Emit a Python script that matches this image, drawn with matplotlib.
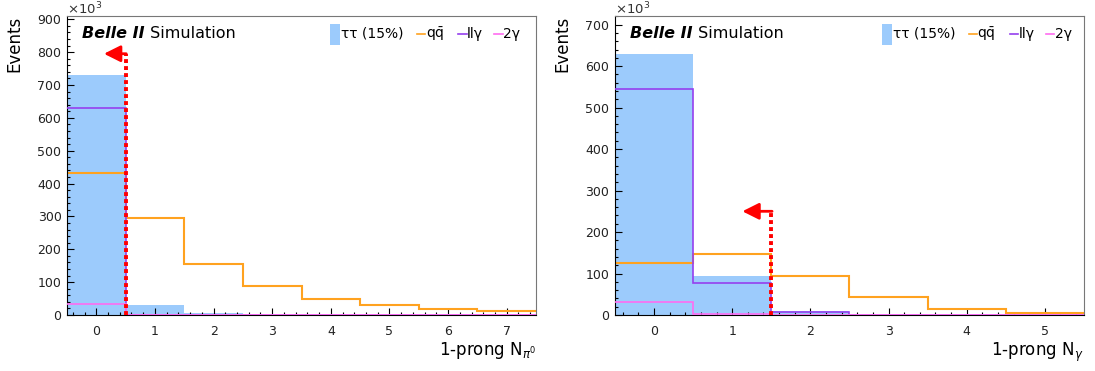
import numpy as np
import matplotlib.pyplot as plt
from matplotlib.ticker import MultipleLocator

# values in units of 10^3 events, one entry per bin
npi0_bins = [0, 1, 2, 3, 4, 5, 6, 7]
npi0_tautau = [730, 31, 6, 2, 0.5, 0.2, 0.1, 0.0]
npi0_qq = [431, 296, 155, 87, 50, 29, 17.5, 11]
npi0_llg = [629, 1, 0.2, 0, 0, 0, 0, 0]
npi0_2g = [34, 0.3, 0, 0, 0, 0, 0, 0]
npi0_cut = 0.5
npi0_arrow = (0.13, 795)

ngam_bins = [0, 1, 2, 3, 4, 5]
ngam_tautau = [630, 93, 9, 1.5, 0.2, 0.0]
ngam_qq = [126, 148, 95, 43, 15, 5]
ngam_llg = [546, 78, 7, 1, 0, 0]
ngam_2g = [32, 3, 0.3, 0, 0, 0]
ngam_cut = 1.5
ngam_arrow = (1.13, 250)

xlabels = [r'1-prong N$_{\pi^0}$', r'1-prong N$_{\gamma}$']
legend_names = ['\u03c4\u03c4 (15%)', r'$\mathrm{q\bar{q}}$', 'll\u03b3', '2\u03b3']

c_tau = '#9ccbfc'
c_qq = '#ffa21f'
c_llg = '#9540ee'
c_2g = '#ff6cf0'
c_cut = '#ff0000'

fig = plt.figure(figsize=(10.95, 3.71), dpi=100)
ax1 = fig.add_axes([0.0612, 0.151, 0.4283, 0.806])
ax2 = fig.add_axes([0.5616, 0.151, 0.4283, 0.806])


def draw_panel(ax, bins, tau, qq, llg, g2, cut, arrow, ymax, xlab, legdx):
    edges = np.append(np.array(bins) - 0.5, bins[-1] + 0.5)
    ax.stairs(tau, edges, fill=True, color=c_tau, zorder=1)
    ax.stairs(qq, edges, baseline=None, color=c_qq, lw=1.5, zorder=2)
    ax.stairs(llg, edges, baseline=None, color=c_llg, lw=1.2, zorder=3)
    ax.stairs(g2, edges, baseline=None, color=c_2g, lw=1.2, zorder=4)

    # selection cut
    ax.plot([cut, cut], [0, arrow[1]], color=c_cut, lw=2.8,
            ls=(0, (1, 0.8)), zorder=6, solid_capstyle='butt')
    ax.annotate('', xy=(arrow[0], arrow[1]), xytext=(cut + 0.01, arrow[1]),
                arrowprops=dict(arrowstyle='-|>,head_length=1.0,head_width=0.5',
                                color=c_cut, lw=2, shrinkA=0, shrinkB=0),
                zorder=7)

    ax.set_xlim(edges[0], edges[-1])
    ax.set_ylim(0, ymax)
    ax.xaxis.set_major_locator(MultipleLocator(1))
    ax.xaxis.set_minor_locator(MultipleLocator(0.2))
    ax.yaxis.set_major_locator(MultipleLocator(100))
    ax.yaxis.set_minor_locator(MultipleLocator(20))
    ax.tick_params(which='both', direction='in', top=False, right=False,
                   labelsize=9, labelcolor='#222222')
    ax.tick_params(which='major', length=4.8, width=0.8)
    ax.tick_params(which='minor', length=2.4, width=0.8)
    ax.tick_params(axis='x', pad=7)
    ax.tick_params(axis='y', pad=4)
    for s in ['top', 'right']:
        ax.spines[s].set_color('#777777')
        ax.spines[s].set_linewidth(0.8)

    ax.set_ylabel('Events', fontsize=12, loc='top')
    ax.yaxis.set_label_coords(-0.092, 1.0)
    ax.set_xlabel(xlab, fontsize=12, loc='right')
    ax.xaxis.set_label_coords(1.0, -0.085)
    ax.text(0.0, 0.995, '\u00d710$^{\\mathregular{3}}$', transform=ax.transAxes,
            fontsize=9.5, ha='left', va='bottom', color='#333333')

    t1 = ax.text(0.032, 0.94, 'Belle II', transform=ax.transAxes,
                 fontsize=11.5, fontweight='bold', fontstyle='italic',
                 va='center', ha='left')
    ax.annotate(' Simulation', xy=(1, 0), xycoords=t1, fontsize=11.5,
                va='bottom', ha='left')

    # legend drawn in a row, like the ROOT one
    tr = ax.transAxes
    y0 = 0.94
    ax.fill_between([0.561 + legdx, 0.582 + legdx], 0.903, 0.973,
                    color=c_tau, transform=tr, lw=0)
    ax.text(0.584 + legdx, y0, legend_names[0], transform=tr, fontsize=10,
            va='center', ha='left')
    for xs, col, name in [(0.746, c_qq, legend_names[1]),
                          (0.834, c_llg, legend_names[2]),
                          (0.911, c_2g, legend_names[3])]:
        ax.plot([xs + legdx, xs + legdx + 0.018], [y0, y0], color=col, lw=1.2,
                transform=tr)
        ax.text(xs + legdx + 0.019, y0, name, transform=tr, fontsize=10,
                va='center', ha='left')


draw_panel(ax1, npi0_bins, npi0_tautau, npi0_qq, npi0_llg, npi0_2g,
           npi0_cut, npi0_arrow, 910, xlabels[0], 0.0)
draw_panel(ax2, ngam_bins, ngam_tautau, ngam_qq, ngam_llg, ngam_2g,
           ngam_cut, ngam_arrow, 721, xlabels[1], 0.008)

fig.savefig('out.png', dpi=100)
